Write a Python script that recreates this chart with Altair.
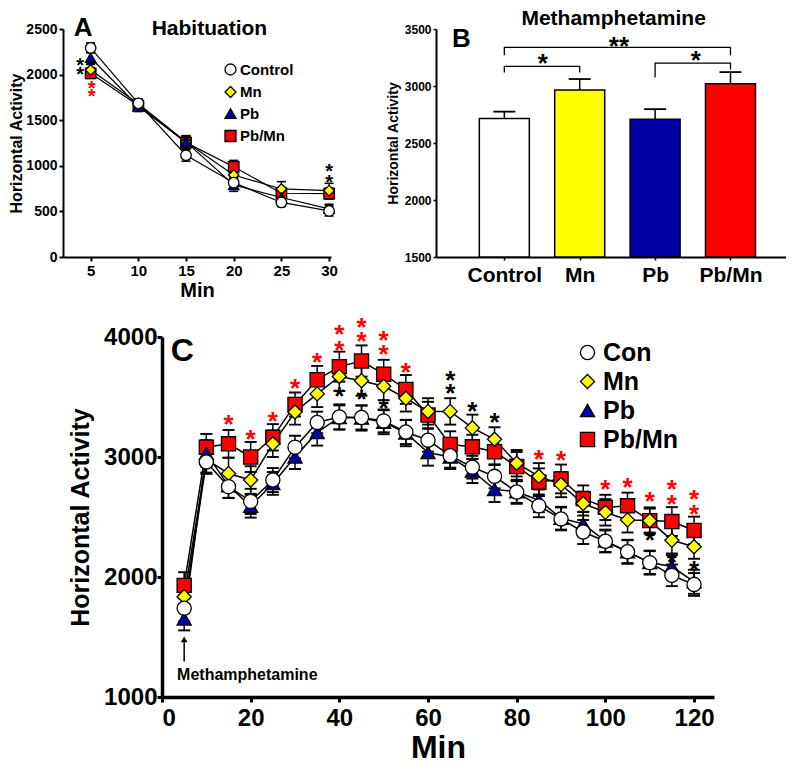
import altair as alt
import pandas as pd

FONT = "Liberation Sans"

groups = ["Control", "Mn", "Pb", "Pb/Mn"]
fill_colors = ["#FFFFFF", "#FFFF00", "#0000A8", "#FF0000"]
shape_types = ["circle", "diamond", "triangle-up", "square"]
draw_rank = [3, 1, 2, 0]

# ---------------- Panel A: Habituation ----------------
a_minutes = [5, 10, 15, 20, 25, 30]
a_control = [2293, 1685, 1116, 815, 598, 505]
a_mn = [2051, 1680, 1261, 899, 746, 728]
a_pb = [2185, 1650, 1262, 790, 652, 528]
a_pbmn = [2014, 1660, 1254, 989, 699, 695]
a_control_sem = [55, 50, 65, 60, 45, 55]
a_mn_sem = [60, 45, 70, 65, 80, 80]
a_pb_sem = [65, 55, 60, 70, 60, 50]
a_pbmn_sem = [55, 50, 75, 70, 60, 60]

a_star_min = [3.9, 3.9, 5.1, 5.1, 30, 30]
a_star_val = [2149, 2047, 1902, 1812, 989, 862]
a_star_col = ["black", "black", "red", "red", "black", "black"]

a_label_text = ["A", "Habituation"]
a_label_min = [4.2, 17.45]
a_label_val = [2515, 2500]
a_label_size = [26, 21]

# ---------------- Panel B: Methamphetamine ----------------
b_groups = ["Control", "Mn", "Pb", "Pb/Mn"]
b_pos = [1, 2, 3, 4]
b_mean = [2714, 2964, 2708, 3019]
b_sem = [61, 97, 89, 103]

b_bracket_id = ["c-mn"] * 4 + ["c-pbmn"] * 4 + ["pb-pbmn"] * 4
b_bracket_pos = [1, 1, 2, 2, 1, 1, 4, 4, 3, 3, 4, 4]
b_bracket_val = [3119, 3172, 3172, 3119, 3269, 3339, 3339, 3269, 3075, 3200, 3200, 3144]

b_star_pos = [1.51, 2.52, 3.54]
b_star_val = [3242, 3394, 3269]
b_star_text = ["*", "**", "*"]

b_label_text = ["B", "Methamphetamine"]
b_label_pos = [0.43, 2.45]
b_label_val = [3412, 3585]
b_label_size = [26, 21]

# ---------------- Panel C: time course ----------------
c_minutes = [5, 10, 15, 20, 25, 30, 35, 40, 45, 50, 55, 60,
             65, 70, 75, 80, 85, 90, 95, 100, 105, 110, 115, 120]
c_control = [1740, 2959, 2753, 2630, 2808, 3082, 3288, 3334, 3329, 3301, 3208, 3140,
             3011, 2915, 2839, 2708, 2593, 2484, 2375, 2298, 2211, 2120, 2014, 1938]
c_mn = [1836, 2980, 2863, 2808, 3110, 3375, 3526, 3671, 3636, 3589, 3489, 3380,
        3380, 3243, 3148, 2948, 2839, 2770, 2612, 2539, 2476, 2470, 2306, 2252]
c_pb = [1650, 3030, 2760, 2590, 2780, 3000, 3205, 3330, 3325, 3290, 3200, 3038,
        3000, 2883, 2730, 2710, 2640, 2490, 2443, 2300, 2210, 2120, 2087, 1960]
c_pbmn = [1930, 3082, 3110, 3000, 3164, 3438, 3644, 3753, 3800, 3690, 3563, 3350,
          3104, 3085, 3044, 2921, 2790, 2817, 2653, 2580, 2593, 2470, 2462, 2388]
c_control_sem = [110, 100, 95, 105, 100, 95, 90, 105, 100, 95, 100, 95,
                 100, 95, 100, 90, 95, 95, 100, 90, 95, 95, 90, 95]
c_mn_sem = [100, 110, 130, 115, 110, 105, 110, 120, 125, 115, 110, 110,
            110, 110, 100, 110, 110, 105, 100, 110, 105, 100, 110, 100]
c_pb_sem = [95, 110, 100, 95, 95, 100, 110, 100, 105, 100, 110, 110,
            100, 100, 105, 100, 100, 95, 100, 95, 100, 100, 95, 100]
c_pbmn_sem = [110, 110, 115, 125, 110, 100, 115, 125, 130, 120, 120, 110,
              110, 100, 110, 120, 115, 120, 110, 105, 110, 110, 120, 115]

c_star_min = [15, 20, 25, 30, 35, 40, 40, 45, 45, 50, 50, 55, 85, 90, 100, 105, 110, 115, 115, 120, 120,
              40, 45, 50, 65, 65, 70, 75, 110, 115, 120]
c_star_val = [3315, 3192, 3342, 3616, 3836, 3937, 4068, 4008, 4129, 3899, 4014, 3753, 3025, 3017, 2776,
              2790, 2675, 2648, 2771, 2566, 2689,
              3548, 3521, 3452, 3571, 3686, 3426, 3336, 2347, 2170, 2101]
c_star_col = ["red"] * 21 + ["black"] * 10

c_label_text = ["C", "Methamphetamine"]
c_label_min = [2.0, 3.4]
c_label_val = [3885, 1180]
c_label_size = [32, 16]

c_arrow_min = [5]
c_arrow_from = [1295]
c_arrow_to = [1480]


def series_frame(minutes, means, sems):
    rows = []
    for g, rank, m, s in zip(groups, draw_rank, means, sems):
        for t, v, e in zip(minutes, m, s):
            rows.append({"group": g, "rank": rank, "t": t, "v": v, "lo": v - e, "hi": v + e})
    return pd.DataFrame(rows)


def axis(**kw):
    base = dict(domainColor="black", tickColor="black", labelColor="black", titleColor="black",
                labelFont=FONT, titleFont=FONT, labelFontWeight="bold", titleFontWeight="bold",
                grid=False)
    base.update(kw)
    return alt.Axis(**base)


def legend(**kw):
    base = dict(title=None, orient="none", labelFont=FONT, labelFontWeight="bold", labelColor="black",
                symbolStrokeColor="black", symbolOpacity=1, padding=0)
    base.update(kw)
    return alt.Legend(**base)


def line_panel(df, xenc, yenc, leg, point_size, line_w, cap_w):
    base = alt.Chart(df)
    err = base.mark_rule(color="black", strokeWidth=line_w).encode(x=xenc("t"), y=yenc("lo"), y2="hi:Q")
    cap_hi = base.mark_tick(orient="horizontal", size=cap_w, thickness=line_w + 0.4, color="black",
                            opacity=1).encode(x=xenc("t"), y=yenc("hi"))
    cap_lo = base.mark_tick(orient="horizontal", size=cap_w, thickness=line_w + 0.4, color="black",
                            opacity=1).encode(x=xenc("t"), y=yenc("lo"))
    lines = base.mark_line(color="black", strokeWidth=line_w).encode(
        x=xenc("t"), y=yenc("v"), detail="group:N")
    pts = base.mark_point(filled=True, opacity=1, strokeWidth=1.3, size=point_size).encode(
        x=xenc("t"), y=yenc("v"),
        fill=alt.Fill("group:N", scale=alt.Scale(domain=groups, range=fill_colors), legend=leg),
        shape=alt.Shape("group:N", scale=alt.Scale(domain=groups, range=shape_types), legend=leg),
        stroke=alt.Stroke("group:N", scale=alt.Scale(domain=groups, range=["black"] * 4), legend=leg),
        order="rank:Q")
    return [err, cap_hi, cap_lo, lines, pts]


def independent(c):
    return c.resolve_scale(fill="independent", shape="independent", stroke="independent").resolve_legend(
        fill="independent", shape="independent", stroke="independent")


# ---------------- Build panel A ----------------
a_df = series_frame(a_minutes, [a_control, a_mn, a_pb, a_pbmn],
                    [a_control_sem, a_mn_sem, a_pb_sem, a_pbmn_sem])
ax_a_x = axis(values=a_minutes, title="Min", labelFontSize=15, titleFontSize=20, domainWidth=2,
              tickWidth=2, tickSize=4, labelPadding=2, titlePadding=2)
ax_a_y = axis(values=[0, 500, 1000, 1500, 2000, 2500], format="d", title="Horizontal Activity",
              labelFontSize=14, titleFontSize=16, domainWidth=2, tickWidth=2, tickSize=4, labelPadding=2,
              titlePadding=1)


def xa(f):
    return alt.X(f"{f}:Q", scale=alt.Scale(domain=[2.1, 30.2], nice=False, zero=False), axis=ax_a_x)


def ya(f):
    return alt.Y(f"{f}:Q", scale=alt.Scale(domain=[0, 2500], nice=False, zero=False), axis=ax_a_y)


leg_a = legend(legendX=160, legendY=33, labelFontSize=15, symbolSize=120, symbolStrokeWidth=1.3,
               rowPadding=5.5, labelOffset=2)
a_layers = line_panel(a_df, xa, ya, leg_a, 110, 1.2, 9)

a_stars = pd.DataFrame({"t": a_star_min, "v": a_star_val, "c": a_star_col, "s": ["*"] * len(a_star_min)})
a_star_layer = alt.Chart(a_stars).mark_text(font=FONT, fontWeight="bold", fontSize=20, dy=5).encode(
    x=xa("t"), y=ya("v"), text="s:N", color=alt.Color("c:N", scale=None))
a_lab = pd.DataFrame({"t": a_label_min, "v": a_label_val, "s": a_label_text, "fs": a_label_size})
a_lab_layer = alt.Chart(a_lab).mark_text(font=FONT, fontWeight="bold", color="black").encode(
    x=xa("t"), y=ya("v"), text="s:N", size=alt.Size("fs:Q", scale=None))

panel_a = alt.layer(*a_layers, a_star_layer, a_lab_layer).properties(width=268, height=228)

# ---------------- Build panel B ----------------
b_df = pd.DataFrame({"pos": b_pos, "group": b_groups, "mean": b_mean,
                     "top": [m + s for m, s in zip(b_mean, b_sem)]})
label_expr = "[" + ",".join(["''"] + [f"'{g}'" for g in b_groups]) + "][datum.value]"
ax_b_x = axis(values=b_pos, labelExpr=label_expr, title=None, labelFontSize=21, tickSize=3, tickWidth=1.5,
              domainWidth=2, labelPadding=4)
ax_b_y = axis(values=[1500, 2000, 2500, 3000, 3500], format="d", title="Horizontal Activity",
              labelFontSize=12, titleFontSize=14, domainWidth=2, tickWidth=1.5, tickSize=3, labelPadding=2,
              titlePadding=4)


def xb(f):
    return alt.X(f"{f}:Q", scale=alt.Scale(domain=[0.16, 4.67], nice=False, zero=False), axis=ax_b_x)


def yb(f):
    return alt.Y(f"{f}:Q", scale=alt.Scale(domain=[1500, 3500], nice=False, zero=False), axis=ax_b_y)


b_base = alt.Chart(b_df)
b_err = b_base.mark_rule(color="black", strokeWidth=1.5).encode(x=xb("pos"), y=yb("mean"), y2="top:Q")
b_cap = b_base.mark_tick(orient="horizontal", size=22, thickness=1.8, color="black", opacity=1).encode(
    x=xb("pos"), y=yb("top"))
b_bars = b_base.mark_bar(size=50, stroke="black", strokeWidth=1.5, opacity=1).encode(
    x=xb("pos"), y=yb("mean"), y2=alt.datum(1500),
    fill=alt.Fill("group:N", scale=alt.Scale(domain=groups, range=fill_colors), legend=None))
br_df = pd.DataFrame({"id": b_bracket_id, "pos": b_bracket_pos, "v": b_bracket_val,
                      "seq": list(range(len(b_bracket_id)))})
b_brackets = alt.Chart(br_df).mark_line(color="black", strokeWidth=1.3).encode(
    x=xb("pos"), y=yb("v"), detail="id:N", order="seq:Q")
bs_df = pd.DataFrame({"pos": b_star_pos, "v": b_star_val, "s": b_star_text})
b_stars = alt.Chart(bs_df).mark_text(font=FONT, fontWeight="bold", fontSize=26, color="black", dy=6).encode(
    x=xb("pos"), y=yb("v"), text="s:N")
bl_df = pd.DataFrame({"pos": b_label_pos, "v": b_label_val, "s": b_label_text, "fs": b_label_size})
b_labels = alt.Chart(bl_df).mark_text(font=FONT, fontWeight="bold", color="black").encode(
    x=xb("pos"), y=yb("v"), text="s:N", size=alt.Size("fs:Q", scale=None))

panel_b = alt.layer(b_err, b_cap, b_bars, b_brackets, b_stars, b_labels).properties(width=350, height=228)

# ---------------- Build panel C ----------------
c_df = series_frame(c_minutes, [c_control, c_mn, c_pb, c_pbmn],
                    [c_control_sem, c_mn_sem, c_pb_sem, c_pbmn_sem])
ax_c_x = axis(values=[0, 20, 40, 60, 80, 100, 120], title="Min", labelFontSize=24, titleFontSize=32,
              domainWidth=3.5, tickWidth=3, tickSize=5, labelPadding=4, titlePadding=2)
ax_c_y = axis(values=[1000, 2000, 3000, 4000], format="d", title="Horizontal Activity", labelFontSize=24,
              titleFontSize=25, domainWidth=3.5, tickWidth=3, tickSize=5, labelPadding=0, titlePadding=10)


def xc(f):
    return alt.X(f"{f}:Q", scale=alt.Scale(domain=[0, 124.5], nice=False, zero=False), axis=ax_c_x)


def yc(f):
    return alt.Y(f"{f}:Q", scale=alt.Scale(domain=[1000, 4000], nice=False, zero=False), axis=ax_c_y)


leg_c = legend(legendX=413, legendY=3, labelFontSize=25, symbolSize=200, symbolStrokeWidth=1.3,
               rowPadding=3, labelOffset=3, labelExpr="datum.label == 'Control' ? 'Con' : datum.label")
c_layers = line_panel(c_df, xc, yc, leg_c, 200, 1.5, 12)

c_stars = pd.DataFrame({"t": c_star_min, "v": c_star_val, "c": c_star_col, "s": ["*"] * len(c_star_min)})
c_star_layer = alt.Chart(c_stars).mark_text(font=FONT, fontWeight="bold", fontSize=26, dy=6).encode(
    x=xc("t"), y=yc("v"), text="s:N", color=alt.Color("c:N", scale=None))
c_lab = pd.DataFrame({"t": c_label_min, "v": c_label_val, "s": c_label_text, "fs": c_label_size})
c_lab_layer = alt.Chart(c_lab).mark_text(font=FONT, fontWeight="bold", color="black", align="left").encode(
    x=xc("t"), y=yc("v"), text="s:N", size=alt.Size("fs:Q", scale=None))
arr_df = pd.DataFrame({"t": c_arrow_min, "lo": c_arrow_from, "hi": c_arrow_to})
c_arrow = alt.Chart(arr_df).mark_rule(color="black", strokeWidth=1.5).encode(x=xc("t"), y=yc("lo"), y2="hi:Q")
c_head = alt.Chart(arr_df).mark_point(shape="triangle-up", filled=True, color="black", opacity=1, size=45).encode(
    x=xc("t"), y=yc("hi"))

panel_c = alt.layer(*c_layers, c_star_layer, c_lab_layer, c_arrow, c_head).properties(width=552, height=360)

# small empty cell that only offsets panel C from the left edge
spacer = alt.Chart(pd.DataFrame({"s": [" "]})).mark_text(fontSize=1, opacity=0).encode(
    text="s:N").properties(width=1, height=1)

top = independent(alt.hconcat(panel_a, panel_b, spacing=105, bounds="flush"))
bottom = independent(alt.hconcat(spacer, panel_c, spacing=4))

chart = independent(alt.vconcat(top, bottom, spacing=14, padding=0)).configure_view(stroke=None)

chart.save("out.html", embed_options={"renderer": "svg", "actions": False})
